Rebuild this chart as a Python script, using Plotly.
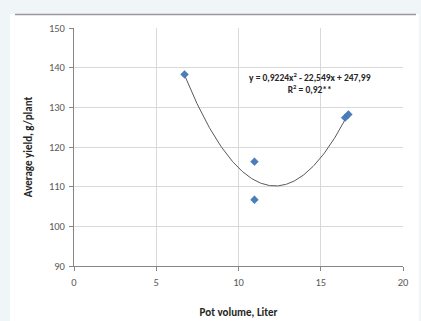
import numpy as np
import plotly.graph_objects as go

# Data
pot_volume = [6.72, 10.97, 10.97, 16.48, 16.68]
avg_yield = [138.3, 116.3, 106.7, 127.4, 128.2]
# Polynomial trendline coefficients as printed on the chart (a, b, c)
trend_coef = [0.9224, -22.549, 247.99]
eq_text = "y = 0,9224x<sup>2</sup> - 22,549x + 247,99<br>R<sup>2</sup> = 0,92**"
x_ticks = [0, 5, 10, 15, 20]
y_ticks = [90, 100, 110, 120, 130, 140, 150]

xs = np.linspace(min(pot_volume), max(pot_volume), 200)
ys = np.polyval(trend_coef, xs)

FONT = "Carlito, Lato, 'Open Sans', sans-serif"

fig = go.Figure()
fig.add_trace(go.Scatter(x=xs, y=ys, mode="lines",
                         line=dict(color="#595959", width=1),
                         hoverinfo="skip", showlegend=False))
fig.add_trace(go.Scatter(x=pot_volume, y=avg_yield, mode="markers",
                         marker=dict(symbol="diamond", size=6, color="#4a7ebb",
                                     line=dict(color="#3f6fae", width=0.5)),
                         showlegend=False))

fig.add_annotation(x=14.35, y=136.0, xref="x", yref="y", text="<b>" + eq_text + "</b>",
                   showarrow=False, align="center",
                   font=dict(family=FONT, size=9.5, color="#262626"))

# background card
L, R, T, B = 74, 18, 28, 55
W, H = 421, 321
pw, ph = W - L - R, H - T - B
def px(xp):
    return (xp - L) / pw
def py(yp):
    return (H - B - yp) / ph

fig.add_shape(type="rect", xref="paper", yref="paper", layer="below",
              x0=px(10), x1=px(419), y0=py(330), y1=py(14),
              fillcolor="white", line=dict(width=0))
fig.add_shape(type="line", xref="paper", yref="paper", layer="below",
              x0=px(15), x1=px(416), y0=py(14.5), y1=py(14.5),
              line=dict(color="#9a9a9a", width=1.5))

axis_common = dict(showgrid=True, gridcolor="#d9d9d9", gridwidth=1,
                   showline=True, linecolor="#868686", linewidth=1,
                   ticks="outside", ticklen=4, tickcolor="#868686",
                   ticklabelstandoff=2, automargin=False,
                   tickfont=dict(family=FONT, size=10.5, color="#595959"),
                   zeroline=False, fixedrange=True)

fig.update_xaxes(range=[0, 20], tickvals=x_ticks, **axis_common,
                 title=dict(text="<b>Pot volume, Liter</b>", standoff=20,
                            font=dict(family=FONT, size=11, color="#262626")))
fig.update_yaxes(range=[90, 150], tickvals=y_ticks, **axis_common,
                 title=dict(text="<b>Average yield, g/plant</b>", standoff=14,
                            font=dict(family=FONT, size=11, color="#262626")))

fig.update_layout(width=W, height=H, margin=dict(l=L, r=R, t=T, b=B),
                  paper_bgcolor="#f0f5f8", plot_bgcolor="white",
                  showlegend=False)

fig.write_html("out.html", config={"displayModeBar": False},
               post_script="document.body.style.margin='0';document.body.style.overflow='hidden';")
